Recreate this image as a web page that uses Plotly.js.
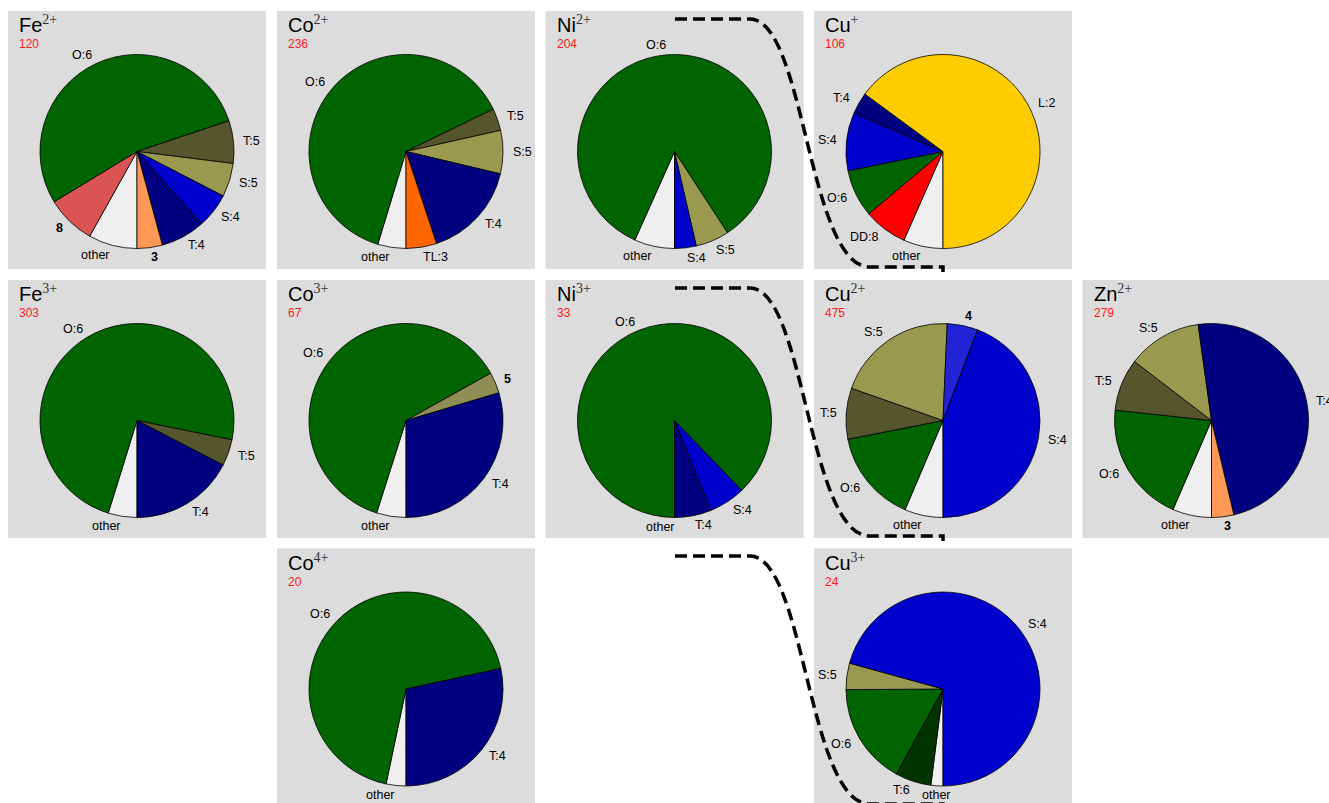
<!DOCTYPE html>
<html><head><meta charset="utf-8">
<script src="https://cdn.plot.ly/plotly-3.0.1.min.js"></script>
<style>html,body{margin:0;padding:0;overflow:hidden;background:#fff}#chart{width:1329px;height:803px}</style>
</head><body><div id="chart"></div>
<script>
// ---------- data (share of coordination geometries, %) ----------
const FE2_LABELS = ['3','T:4','S:4','S:5','T:5','O:6','8','other'];
const FE2_VALUES = [4.2,7.4,5.8,5.6,7.1,53.5,8.2,8.1];
const CO2_LABELS = ['TL:3','T:4','S:5','T:5','O:6','other'];
const CO2_VALUES = [5.1,16.2,7.2,3.7,63.1,4.7];
const NI2_LABELS = ['S:4','S:5','O:6','other'];
const NI2_VALUES = [3.6,5.6,84.1,6.7];
const CU1_LABELS = ['L:2','T:4','S:4','O:6','DD:8','other'];
const CU1_VALUES = [64.9,3.6,9.7,7.9,7.3,6.6];
const FE3_LABELS = ['T:4','T:5','O:6','other'];
const FE3_VALUES = [17.4,4.4,73.4,4.8];
const CO3_LABELS = ['T:4','5','O:6','other'];
const CO3_VALUES = [29.6,3.5,62.0,4.9];
const NI3_LABELS = ['T:4','S:4','O:6','other'];
const NI3_VALUES = [6.1,6.1,87.8,0];
const CU2_LABELS = ['S:4','4','S:5','T:5','O:6','other'];
const CU2_VALUES = [44.2,5.1,20.3,8.5,15.5,6.4];
const ZN2_LABELS = ['3','T:4','S:5','T:5','O:6','other'];
const ZN2_VALUES = [3.7,48.5,12.4,8.7,20.2,6.5];
const CO4_LABELS = ['T:4','O:6','other'];
const CO4_VALUES = [28.4,68.3,3.3];
const CU3_LABELS = ['S:4','S:5','O:6','T:6','other'];
const CU3_VALUES = [70.7,4.4,16.9,6.0,2.0];

const ION_ELEMENTS = ['Fe','Co','Ni','Cu','Fe','Co','Ni','Cu','Zn','Co','Cu'];
const ION_CHARGES  = ['2+','2+','2+','+','3+','3+','3+','2+','2+','4+','3+'];
const ION_COUNTS   = [120,236,204,106,303,67,33,475,279,20,24];
const ION_LABELS = [FE2_LABELS,CO2_LABELS,NI2_LABELS,CU1_LABELS,FE3_LABELS,CO3_LABELS,NI3_LABELS,CU2_LABELS,ZN2_LABELS,CO4_LABELS,CU3_LABELS];
const ION_VALUES = [FE2_VALUES,CO2_VALUES,NI2_VALUES,CU1_VALUES,FE3_VALUES,CO3_VALUES,NI3_VALUES,CU2_VALUES,ZN2_VALUES,CO4_VALUES,CU3_VALUES];

// ---------- styling ----------
const GRID_COL = [0,1,2,3,0,1,2,3,4,1,3];
const GRID_ROW = [0,0,0,0,1,1,1,1,1,2,2];
const COLORS = {
  'O:6':'#006400','T:5':'#55552E','S:5':'#999950','S:4':'#0000CD','T:4':'#000080',
  '3':'#FF9955','8':'#DB5454','other':'#EFEFEF','TL:3':'#FF6600','L:2':'#FFCC00',
  'DD:8':'#FF0000','4':'#2323D6','5':'#8F8F55','T:6':'#003300'
};
// label alignment override (panel index : label) -> centred, as in the reference
const CENTER_LABELS = {'10:other': true};
const W = 1329, H = 803;
const PANEL_X = [8, 277, 545.5, 814, 1082.5];
const PANEL_Y = [11, 280, 548.5];
const PANEL = 258, PCX = 129, PCY = 140.5, PR = 97, LABEL_DIST = 1.1;
const px = x => x / W, py = y => 1 - y / H;

const traces = [], shapes = [], annotations = [];
const font = 'Liberation Sans, Arial, sans-serif';

for (let i = 0; i < ION_ELEMENTS.length; i++) {
  const x0 = PANEL_X[GRID_COL[i]], y0 = PANEL_Y[GRID_ROW[i]];
  shapes.push({type:'rect', xref:'paper', yref:'paper', layer:'below',
    x0:px(x0), x1:px(x0+PANEL), y0:py(y0+PANEL), y1:py(y0),
    fillcolor:'#DCDCDC', line:{width:0}});
  const cx = x0 + PCX, cy = y0 + PCY;
  const labs = ION_LABELS[i], vals = ION_VALUES[i];
  // reversed order drawn clockwise from 6 o'clock == original order counter-clockwise
  const rl = labs.slice().reverse(), rv = vals.slice().reverse();
  traces.push({
    type:'pie', labels:rl, values:rv, sort:false,
    direction:'clockwise', rotation:180, textinfo:'none',
    marker:{colors: rl.map(l => COLORS[l]), line:{color:'#000', width:0.8}},
    domain:{x:[px(cx-PR), px(cx+PR)], y:[py(cy+PR), py(cy-PR)]},
    showlegend:false, hoverinfo:'label+value'
  });
  // slice labels at 1.1 r on the mid-angle of each slice
  const total = vals.reduce((a,b)=>a+b,0);
  let cum = 0;
  for (let j = 0; j < labs.length; j++) {
    const mid = (cum + vals[j]/2) / total * 2*Math.PI;
    cum += vals[j];
    const th = mid - Math.PI/2;
    const c = Math.cos(th), s = Math.sin(th);
    const xt = cx + LABEL_DIST*PR*c, yt = cy - LABEL_DIST*PR*s;
    const anchor = CENTER_LABELS[i + ':' + labs[j]] ? 'center' : (c > 0 ? 'left' : 'right');
    annotations.push({xref:'paper', yref:'paper', x:px(xt), y:py(yt),
      xanchor: anchor, yanchor:'middle', showarrow:false,
      borderpad:0, borderwidth:0,
      text: /^\d+$/.test(labs[j]) ? '<b>'+labs[j]+'</b>' : labs[j],
      font:{family:font, size:12.5, color:'#000'}});
  }
  annotations.push({xref:'paper', yref:'paper', x:px(x0+11), y:py(y0+1),
    xanchor:'left', yanchor:'top', showarrow:false, borderpad:0, borderwidth:0,
    text: ION_ELEMENTS[i] + '<span style="font-family:Liberation Serif;color:#333"><sup>' + ION_CHARGES[i] + '</sup></span>',
    font:{family:font, size:20, color:'#000'}});
  annotations.push({xref:'paper', yref:'paper', x:px(x0+11), y:py(y0+26),
    xanchor:'left', yanchor:'top', showarrow:false, borderpad:0, borderwidth:0,
    text: String(ION_COUNTS[i]), font:{family:font, size:12, color:'#FF1A1A'}});
}

// dashed connectors
[19, 288, 556].forEach(yy => {
  const d = 'M ' + px(675) + ' ' + py(yy) + ' L ' + px(750) + ' ' + py(yy) +
    ' C ' + px(805) + ' ' + py(yy) + ', ' + px(808) + ' ' + py(yy+248) + ', ' + px(870) + ' ' + py(yy+248) +
    ' L ' + px(943) + ' ' + py(yy+248) + ' L ' + px(943) + ' ' + py(yy+253);
  shapes.push({type:'path', xref:'paper', yref:'paper', layer:'above', path:d,
    line:{color:'#000', width:3.5, dash:'12px,6px'}});
});

Plotly.newPlot('chart', traces, {
  width:W, height:H, margin:{l:0,r:0,t:0,b:0},
  paper_bgcolor:'#fff', plot_bgcolor:'#fff',
  shapes:shapes, annotations:annotations
}, {staticPlot:true});
</script></body></html>
